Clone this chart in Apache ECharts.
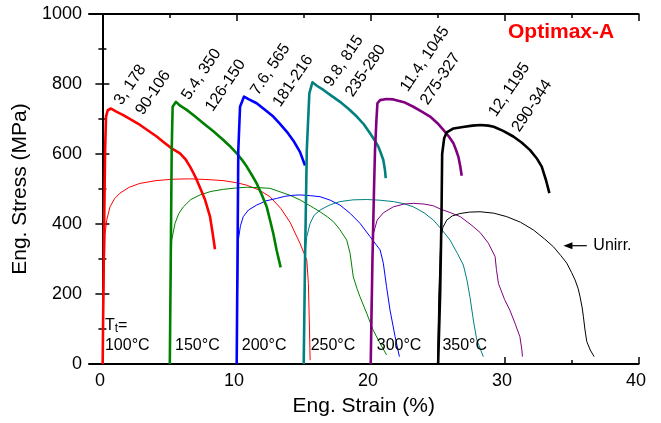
<!DOCTYPE html>
<html><head><meta charset="utf-8">
<script src="https://cdn.jsdelivr.net/npm/echarts@6/dist/echarts.min.js"></script>
<style>html,body{margin:0;padding:0;background:#fff}#c{width:661px;height:423px}</style>
</head><body><div id="c"></div>
<script>
const FONT = '"Liberation Sans", Arial, Helvetica, sans-serif';

// ---- axis ticks ----
const xMajorTicks = [0, 10, 20, 30, 40];
const xMinorTicks = [5, 15, 25, 35];

// ---- curves: [strain %, stress MPa] ----
// irradiated (thick)
const irr100 = [[0.02,0],[0.1,300],[0.2,611],[0.27,707],[0.4,725],[0.64,730],[1.0,722],[1.56,711],[2.2,697],[2.81,683],[3.4,667],[4.05,650],[4.6,633],[5.17,616],[5.79,602],[6.2,585],[6.54,564],[6.8,545],[7.04,526],[7.35,498],[7.66,469],[8.03,421],[8.2,380],[8.4,328]];
const irr150 = [[5.03,0],[5.1,300],[5.17,611],[5.24,735],[5.49,749],[5.8,738],[6.29,726],[6.9,708],[7.53,688],[8.3,664],[9.02,640],[9.5,623],[10.02,602],[10.4,584],[10.77,564],[11.15,540],[11.51,516],[11.9,483],[12.26,449],[12.5,412],[12.75,373],[13.0,325],[13.3,276]];
const irr200 = [[10.02,0],[10.08,300],[10.14,611],[10.27,735],[10.57,764],[10.9,757],[11.51,745],[12.1,727],[12.75,707],[13.25,686],[13.75,664],[14.25,638],[14.74,606],[15.12,567]];
const irr250 = [[15.02,0],[15.12,300],[15.25,611],[15.44,773],[15.67,805],[16.0,795],[16.49,783],[17.1,766],[17.73,749],[18.4,728],[18.98,707],[19.5,685],[19.97,659],[20.3,640],[20.59,621],[20.8,600],[20.96,583],[21.08,555],[21.14,531]];
const irr300 = [[20.02,0],[20.15,300],[20.27,507],[20.34,611],[20.45,700],[20.52,745],[20.72,754],[21.2,757],[21.71,756],[22.5,748],[23.2,735],[23.8,722],[24.45,707],[25.0,688],[25.44,669],[25.85,650],[26.19,631],[26.4,610],[26.56,592],[26.7,565],[26.81,538]];
const irr350 = [[25.05,0],[25.2,200],[25.3,420],[25.35,600],[25.5,645],[25.69,662],[26.2,673],[26.9,677],[27.6,681],[28.2,683],[28.8,681],[29.2,678],[29.9,666],[30.66,650],[31.3,632],[31.91,611],[32.4,588],[32.78,564],[33.1,525],[33.35,488]];
// unirradiated (thin)
const unirr100 = [[0,0],[0.1,200],[0.2,370],[0.32,411],[0.57,449],[0.9,472],[1.31,488],[2.0,505],[2.8,516],[4.0,524],[5.27,528],[6.5,529],[7.8,527],[9.0,524],[10.0,518],[10.77,511],[11.7,497],[12.5,478],[13.3,445],[14.0,405],[14.74,345],[15.25,297],[15.37,230],[15.45,100],[15.5,11]];
const unirr150 = [[5,0],[5.08,200],[5.17,354],[5.42,402],[5.7,430],[6.04,449],[6.6,470],[7.28,483],[8.1,493],[9.02,499],[10.0,503],[10.77,505],[11.6,504],[12.5,502],[13.25,492],[14.0,482],[14.74,469],[15.5,452],[16.24,435],[16.8,420],[17.23,407],[17.7,385],[18.23,354],[18.48,316],[18.72,249],[19.0,215],[19.22,192],[19.72,145],[20.2,97],[20.7,60],[21.2,26]];
const unirr200 = [[10,0],[10.08,200],[10.14,354],[10.3,395],[10.51,421],[10.9,440],[11.51,454],[12.2,466],[13.0,473],[13.6,479],[14.2,482],[14.74,483],[15.5,481],[16.24,478],[17.0,468],[17.73,454],[18.5,430],[19.22,402],[19.97,364],[20.4,342],[20.72,326],[20.96,288],[21.2,221],[21.46,154],[21.84,78],[22.16,21]];
const unirr250 = [[15,0],[15.1,200],[15.15,330],[15.25,364],[15.5,402],[15.8,425],[16.24,440],[17.0,455],[17.73,464],[18.7,469],[19.72,470],[20.7,468],[21.71,464],[22.5,458],[23.2,449],[24.0,432],[24.7,411],[25.3,385],[25.94,354],[26.5,315],[26.93,283],[27.2,240],[27.43,190],[27.7,120],[27.93,70],[28.42,21]];
const unirr300 = [[20,0],[20.1,250],[20.2,370],[20.5,411],[20.96,432],[21.7,449],[22.5,457],[23.2,459],[24.0,457],[24.7,452],[25.2,443],[26.0,432],[26.7,421],[27.5,398],[28.2,375],[28.8,345],[29.3,307],[29.4,270],[29.55,230],[30.0,185],[30.4,154],[30.8,115],[31.15,78],[31.3,40],[31.34,21]];
const unirr350 = [[25,0],[25.1,200],[25.25,360],[25.4,390],[25.69,411],[26.1,423],[26.69,430],[27.4,434],[28.18,435],[29.2,431],[30.17,421],[31.2,405],[32.16,383],[33.0,357],[33.65,335],[34.2,310],[34.65,288],[35.0,262],[35.27,240],[35.5,215],[35.64,192],[35.8,160],[35.89,135],[36.0,100],[36.14,64],[36.4,40],[36.69,21]];

const irrCurves = [irr100, irr150, irr200, irr250, irr300, irr350];
const unirrCurves = [unirr100, unirr150, unirr200, unirr250, unirr300, unirr350];
const curveColors = ['#ff0000', '#008000', '#0000ff', '#008080', '#800080', '#000000'];

// ---- annotations ----
const peakLine1 = ['3, 178', '5.4, 350', '7.6, 565', '9.8, 815', '11.4, 1045', '12, 1195'];
const peakLine2 = ['90-106', '126-150', '181-216', '235-280', '275-327', '290-344'];
const peakLine1At = [[1.15,745],[6.18,759],[11.33,773],[16.80,797],[22.51,783],[29.09,711]];
const peakLine2At = [[2.75,716],[7.97,726],[13.00,739],[18.41,768],[24.00,745],[30.83,668]];
const tempLabels = ['100°C', '150°C', '200°C', '250°C', '300°C', '350°C'];
const tempLabelAt = [[0.19,54],[5.42,54],[10.4,54],[15.54,54],[20.47,54],[25.37,54]];
const ttLabelAt = [0.19, 109];
const unirrArrow = [[36.14,338],[34.40,338]];
const unirrLabelAt = [36.63, 338];

const chart = echarts.init(document.getElementById('c'), null, {renderer: 'canvas'});

const series = [];
unirrCurves.forEach((d, i) => series.push({
  type: 'line', data: d, showSymbol: false, symbol: 'none', smooth: false,
  lineStyle: {color: curveColors[i], width: 1}, z: 2, silent: true
}));
irrCurves.forEach((d, i) => series.push({
  type: 'line', data: d, showSymbol: false, symbol: 'none', smooth: false,
  lineStyle: {color: curveColors[i], width: 2.6, join: 'round'}, z: 3, silent: true
}));

const axisLineStyle = {color: '#000', width: 2};
const labelStyle = {fontFamily: FONT, fontSize: 18, color: '#000'};

chart.setOption({
  animation: false,
  backgroundColor: '#fff',
  title: {
    text: 'Optimax-A', left: 508, top: 22, padding: 0,
    textStyle: {fontFamily: FONT, fontSize: 21, fontWeight: 'bold', color: '#ff0000'}
  },
  grid: {left: 89, top: 14, width: 549.5, height: 350, containLabel: false},
  xAxis: [
    {type: 'value', position: 'bottom', min: -1, max: 40,
     axisLine: {show: true, lineStyle: axisLineStyle},
     axisTick: {show: true, inside: true, length: 7, customValues: xMajorTicks, lineStyle: {color: '#000', width: 1.5}},
     axisLabel: {show: true, customValues: xMajorTicks, margin: 8, padding: [0, 5, 0, 0], ...labelStyle},
     splitLine: {show: false},
     name: 'Eng. Strain (%)', nameLocation: 'middle', nameGap: 32,
     nameTextStyle: {fontFamily: FONT, fontSize: 21, color: '#000'}},
    {type: 'value', position: 'bottom', min: -1, max: 40,
     axisLine: {show: false},
     axisTick: {show: true, inside: true, length: 4, customValues: xMinorTicks, lineStyle: {color: '#000', width: 1.5}},
     axisLabel: {show: false}, splitLine: {show: false}},
    {type: 'value', position: 'top', min: -1, max: 40,
     axisLine: {show: true, lineStyle: axisLineStyle},
     axisTick: {show: true, inside: true, length: 7, customValues: xMajorTicks, lineStyle: {color: '#000', width: 1.5}},
     axisLabel: {show: false}, splitLine: {show: false}},
    {type: 'value', position: 'top', min: -1, max: 40,
     axisLine: {show: false},
     axisTick: {show: true, inside: true, length: 4, customValues: xMinorTicks, lineStyle: {color: '#000', width: 1.5}},
     axisLabel: {show: false}, splitLine: {show: false}}
  ],
  yAxis: [
    {type: 'value', position: 'left', min: 0, max: 1000, interval: 200,
     axisLine: {show: true, lineStyle: axisLineStyle},
     axisTick: {show: true, inside: true, length: 7, lineStyle: {color: '#000', width: 1.5}},
     minorTick: {show: true, splitNumber: 2, length: 4, lineStyle: {color: '#000', width: 1.5}},
     axisLabel: {show: true, margin: 7, formatter: v => String(v), ...labelStyle},
     splitLine: {show: false}, minorSplitLine: {show: false},
     name: 'Eng. Stress (MPa)', nameLocation: 'middle', nameGap: 53,
     nameTextStyle: {fontFamily: FONT, fontSize: 21, color: '#000'}},
    {type: 'value', position: 'right', min: 0, max: 1000, interval: 200,
     axisLine: {show: true, lineStyle: axisLineStyle},
     axisTick: {show: true, inside: true, length: 7, lineStyle: {color: '#000', width: 1.5}},
     minorTick: {show: true, splitNumber: 2, length: 4, lineStyle: {color: '#000', width: 1.5}},
     axisLabel: {show: false}, splitLine: {show: false}, minorSplitLine: {show: false}}
  ],
  series: series
});

function toPx(p) { return chart.convertToPixel({seriesIndex: 0}, p); }
const ROT = 56 * Math.PI / 180;
const graphics = [];
function txt(str, p, extra) {
  const q = toPx(p);
  return Object.assign({
    type: 'text', x: q[0], y: q[1], z: 100,
    style: {text: str, fontFamily: FONT, fontSize: 16, fill: '#000', align: 'left', verticalAlign: 'middle'}
  }, extra || {});
}
peakLine1.forEach((s, i) => graphics.push(txt(s, peakLine1At[i], {rotation: ROT})));
peakLine2.forEach((s, i) => graphics.push(txt(s, peakLine2At[i], {rotation: ROT})));
tempLabels.forEach((s, i) => graphics.push(txt(s, tempLabelAt[i])));
(function () {
  const q = toPx(ttLabelAt);
  graphics.push({
    type: 'text', x: q[0], y: q[1], z: 100,
    style: {
      text: 'T{s|t}=', fontFamily: FONT, fontSize: 16, fill: '#000', align: 'left', verticalAlign: 'middle',
      rich: {s: {fontFamily: FONT, fontSize: 12, fill: '#000', verticalAlign: 'bottom', padding: [6, 0, 0, 0]}}
    }
  });
})();
(function () {
  const a = toPx(unirrArrow[0]), b = toPx(unirrArrow[1]);
  graphics.push({type: 'line', z: 100, shape: {x1: a[0], y1: a[1], x2: b[0] + 6, y2: b[1]}, style: {stroke: '#000', lineWidth: 1.2}});
  graphics.push({type: 'polygon', z: 100, shape: {points: [[b[0], b[1]], [b[0] + 9, b[1] - 3.5], [b[0] + 9, b[1] + 3.5]]}, style: {fill: '#000'}});
  graphics.push(txt('Unirr.', unirrLabelAt));
})();
chart.setOption({graphic: graphics});
</script>
</body></html>
